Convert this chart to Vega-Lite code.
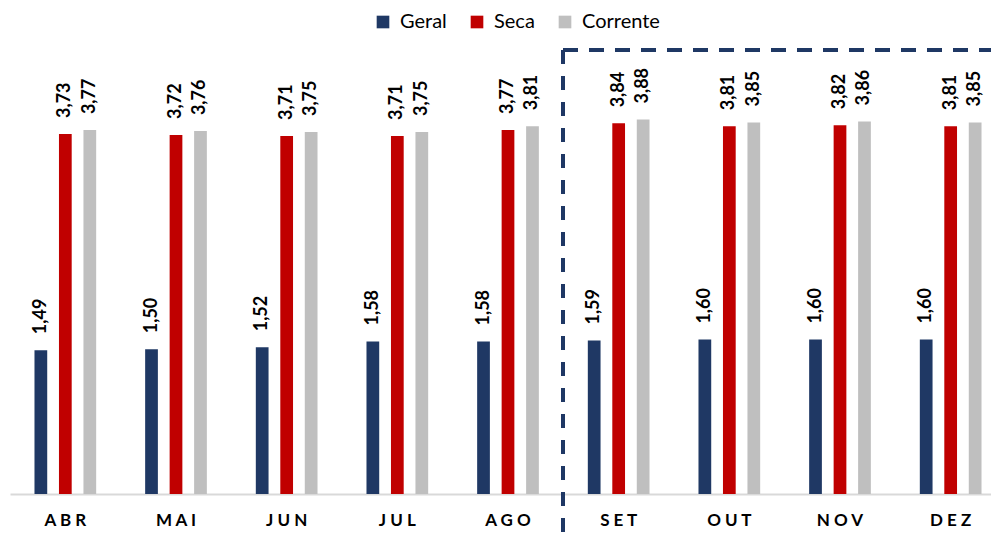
{
  "$schema": "https://vega.github.io/schema/vega-lite/v6.json",
  "autosize": "none",
  "width": 981,
  "height": 444,
  "padding": {"left": 10, "top": 50, "right": 0, "bottom": 49},
  "background": "white",
  "config": {
    "view": {"stroke": null},
    "font": "Lato",
    "locale": {"number": {"decimal": ",", "thousands": ".", "grouping": [3], "currency": ["R$", ""]}}
  },
  "data": {
    "values": [
      {"mes": "ABR", "serie": "Geral", "valor": 1.49},
      {"mes": "ABR", "serie": "Seca", "valor": 3.73},
      {"mes": "ABR", "serie": "Corrente", "valor": 3.77},
      {"mes": "MAI", "serie": "Geral", "valor": 1.50},
      {"mes": "MAI", "serie": "Seca", "valor": 3.72},
      {"mes": "MAI", "serie": "Corrente", "valor": 3.76},
      {"mes": "JUN", "serie": "Geral", "valor": 1.52},
      {"mes": "JUN", "serie": "Seca", "valor": 3.71},
      {"mes": "JUN", "serie": "Corrente", "valor": 3.75},
      {"mes": "JUL", "serie": "Geral", "valor": 1.58},
      {"mes": "JUL", "serie": "Seca", "valor": 3.71},
      {"mes": "JUL", "serie": "Corrente", "valor": 3.75},
      {"mes": "AGO", "serie": "Geral", "valor": 1.58},
      {"mes": "AGO", "serie": "Seca", "valor": 3.77},
      {"mes": "AGO", "serie": "Corrente", "valor": 3.81},
      {"mes": "SET", "serie": "Geral", "valor": 1.59},
      {"mes": "SET", "serie": "Seca", "valor": 3.84},
      {"mes": "SET", "serie": "Corrente", "valor": 3.88},
      {"mes": "OUT", "serie": "Geral", "valor": 1.60},
      {"mes": "OUT", "serie": "Seca", "valor": 3.81},
      {"mes": "OUT", "serie": "Corrente", "valor": 3.85},
      {"mes": "NOV", "serie": "Geral", "valor": 1.60},
      {"mes": "NOV", "serie": "Seca", "valor": 3.82},
      {"mes": "NOV", "serie": "Corrente", "valor": 3.86},
      {"mes": "DEZ", "serie": "Geral", "valor": 1.60},
      {"mes": "DEZ", "serie": "Seca", "valor": 3.81},
      {"mes": "DEZ", "serie": "Corrente", "valor": 3.85}
    ]
  },
  "encoding": {
    "x": {
      "field": "mes",
      "type": "nominal",
      "scale": {
        "domain": ["ABR", "MAI", "JUN", "JUL", "AGO", "SET", "OUT", "NOV", "DEZ"],
        "range": [0, 996],
        "paddingInner": 0,
        "paddingOuter": 0
      },
      "axis": {
        "title": null,
        "ticks": false,
        "domainColor": "#D9D9D9",
        "domainWidth": 2,
        "labelAngle": 0,
        "labelFont": "Lato",
        "labelFontWeight": "bold",
        "labelFontSize": 17,
        "labelColor": "#000000",
        "labelPadding": 18,
        "labelExpr": "join(split(datum.label, ''), ' ')"
      }
    },
    "y": {
      "field": "valor",
      "type": "quantitative",
      "scale": {"domain": [0, 4.6], "nice": false, "zero": true},
      "axis": null
    }
  },
  "layer": [
    {
      "mark": {"type": "bar"},
      "encoding": {
        "xOffset": {
          "field": "serie",
          "type": "nominal",
          "scale": {"domain": ["Geral", "Seca", "Corrente"], "paddingInner": 0.48, "paddingOuter": 1.145}
        },
        "color": {
          "field": "serie",
          "type": "nominal",
          "scale": {"domain": ["Geral", "Seca", "Corrente"], "range": ["#1F3864", "#C00000", "#BFBFBF"]},
          "legend": {
            "title": null,
            "orient": "none",
            "direction": "horizontal",
            "legendX": 363,
            "legendY": -38,
            "symbolType": "square",
            "symbolSize": 160,
            "symbolStrokeWidth": 0,
            "symbolOpacity": 1,
            "labelFont": "Lato",
            "labelFontSize": 20,
            "labelColor": "#000000",
            "labelOffset": 7,
            "columnPadding": 20
          }
        }
      }
    },
    {
      "mark": {"type": "text", "angle": 270, "align": "left", "baseline": "middle", "dx": 16, "font": "Lato", "fontWeight": "bold", "fontSize": 18, "color": "#000000"},
      "encoding": {
        "xOffset": {"field": "serie", "type": "nominal", "scale": {"domain": ["Geral", "Seca", "Corrente"]}},
        "text": {"field": "valor", "type": "quantitative", "format": ".2f"}
      }
    },
    {
      "mark": {"type": "rule", "color": "#1F3864", "strokeWidth": 3, "strokeDash": [14, 12]},
      "encoding": {
        "x": {"datum": "SET", "bandPosition": 0},
        "y": {"datum": 4.6},
        "y2": {"datum": -0.6}
      }
    },
    {
      "mark": {"type": "rule", "color": "#1F3864", "strokeWidth": 3, "strokeDash": [14, 12]},
      "encoding": {
        "x": {"datum": "SET", "bandPosition": 0},
        "x2": {"datum": "DEZ", "bandPosition": 1},
        "y": {"datum": 4.6}
      }
    }
  ]
}
